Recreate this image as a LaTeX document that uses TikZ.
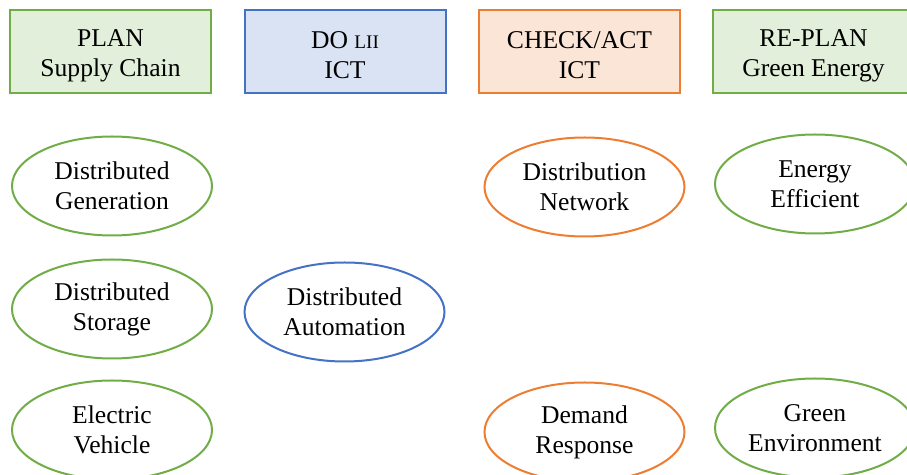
\documentclass[tikz,border=0pt]{standalone}
\usepackage{fontspec}
\setmainfont{Liberation Serif}
\usetikzlibrary{shapes.geometric}
\definecolor{gline}{HTML}{70AD47}
\definecolor{gfill}{HTML}{E2EFDA}
\definecolor{bline}{HTML}{4472C4}
\definecolor{bfill}{HTML}{DAE3F3}
\definecolor{oline}{HTML}{ED7D31}
\definecolor{ofill}{HTML}{FBE5D6}
\tikzset{
  hdrtext/.style={align=center, yshift=-2pt, inner sep=0pt, font=\fontsize{12.8}{15}\selectfont},
  hdr/.style={draw, line width=1pt, rectangle, minimum width=100.5pt, minimum height=41.5pt, inner sep=0pt,
    label={[hdrtext]center:#1}},
  ell/.style={draw, line width=1pt, ellipse, fill=white, minimum width=100pt, minimum height=49.5pt, inner sep=0pt, align=center, font=\fontsize{12.8}{15}\selectfont},
}
\begin{document}
\begin{tikzpicture}[x=0.5pt, y=-0.5pt]
\useasboundingbox (0,0) rectangle (907,475);
\node[hdr={PLAN\\Supply Chain}, draw=gline, fill=gfill] (plan) at (110.5,51.5) {};
\node[hdr={DO {\fontsize{9.6}{10}\selectfont LII}\\ICT}, draw=bline, fill=bfill] (do) at (345,51.5) {};
\node[hdr={CHECK/ACT\\ICT}, draw=oline, fill=ofill] (check) at (579.5,51.5) {};
\node[hdr={RE-PLAN\\Green Energy}, draw=gline, fill=gfill] (replan) at (813.5,51.5) {};

\node[ell, draw=gline] (dg) at (112,186) {Distributed\\Generation};
\node[ell, draw=gline] (ds) at (112,309) {Distributed\\Storage};
\node[ell, draw=gline] (ev) at (112,430) {Electric\\Vehicle};
\node[ell, draw=bline] (da) at (344.5,312) {Distributed\\Automation};
\node[ell, draw=oline] (dn) at (584.5,187) {Distribution\\Network};
\node[ell, draw=oline] (dr) at (584.5,432) {Demand\\Response};
\node[ell, draw=gline] (ee) at (815,184) {Energy\\Efficient};
\node[ell, draw=gline] (ge) at (815,428) {Green\\Environment};
\end{tikzpicture}
\end{document}
